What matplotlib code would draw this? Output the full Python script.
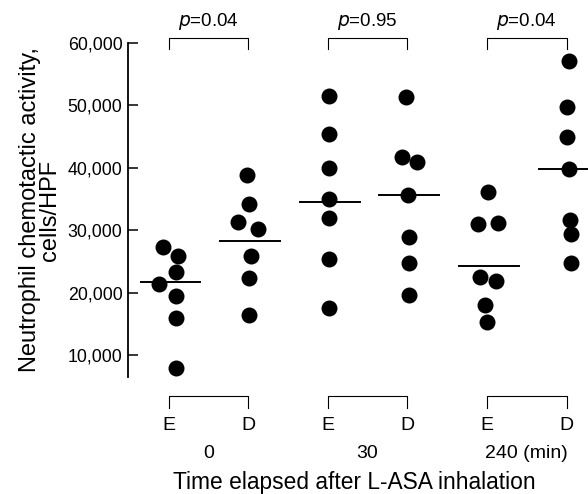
import numpy as np
import matplotlib
matplotlib.use("Agg")
import matplotlib.pyplot as plt
import matplotlib.transforms as mtransforms

plt.rcParams["font.family"] = ["Liberation Sans", "DejaVu Sans"]

# Données (cellules/HPF)
colonnes = ["E", "D", "E", "D", "E", "D"]
groupes = ["0", "30", "240 (min)"]
p_valeurs = ["0.04", "0.95", "0.04"]

E0 = [27280, 25840, 23280, 21360, 19440, 15920, 7920]
D0 = [38800, 34160, 31280, 30160, 25840, 22320, 16400]
E30 = [51440, 45360, 39920, 34960, 31920, 25360, 17520]
D30 = [51280, 41680, 40880, 35600, 28880, 24720, 19600]
E240 = [36080, 30960, 31120, 22480, 21840, 18000, 15280]
D240 = [57040, 49680, 44880, 39760, 31600, 29360, 24720]
series = [E0, D0, E30, D30, E240, D240]

# décalage horizontal des points (points qui se chevauchent)
decalages = [
    [-0.07, 0.12, 0.09, -0.12, 0.09, 0.09, 0.09],
    [-0.01, 0.01, -0.13, 0.12, 0.04, 0.01, 0.01],
    [0.02, 0.02, 0.02, 0.02, 0.02, 0.02, 0.02],
    [-0.02, -0.07, 0.12, 0.01, 0.02, 0.02, 0.02],
    [0.01, -0.11, 0.14, -0.09, 0.11, -0.02, 0.0],
    [0.03, 0.01, 0.01, 0.03, 0.05, 0.06, 0.06],
]

# valeurs des traits horizontaux
traits = [21680, 28240, 34480, 35600, 24240, 39760]

yticks = [10000, 20000, 30000, 40000, 50000, 60000]

fig = plt.figure(figsize=(5.88, 4.94), dpi=100)
ax = fig.add_axes([128 / 588, 117 / 494, 460 / 588, 334 / 494])

positions = np.arange(len(series))
for x, vals, dec in zip(positions, series, decalages):
    ax.plot(x + np.array(dec), vals, "o", color="black", markersize=11.5,
            markeredgewidth=0, clip_on=False)
for x, t in zip(positions, traits):
    ax.plot([x - 0.35, x + 0.4], [t, t], color="black", lw=1.4, clip_on=False)

ax.set_xlim(-0.51, 5.27)
ax.set_ylim(6480, 60000)

# axes
for s in ["top", "right", "bottom"]:
    ax.spines[s].set_visible(False)
ax.spines["left"].set_linewidth(1.3)
ax.set_yticks(yticks)
ax.set_yticklabels([f"{v:,}" for v in yticks], fontsize=12.8)
ax.tick_params(axis="y", direction="in", length=7, width=1.1, pad=4)
ax.set_xticks(positions)
ax.set_xticklabels(colonnes, fontsize=14)
ax.tick_params(axis="x", length=0, pad=29)
ax.set_ylabel("Neutrophil chemotactic activity,\ncells/HPF", fontsize=17,
              linespacing=0.88)
ax.yaxis.set_label_coords(-0.145, 0.5)

# crochets et p-valeurs
trans = mtransforms.blended_transform_factory(ax.transData, ax.transAxes)
for i, (g, p) in enumerate(zip(groupes, p_valeurs)):
    a, b = positions[2 * i], positions[2 * i + 1]
    ax.plot([a, a, b, b], [0.982, 1.015, 1.015, 0.982], color="black",
            lw=0.8, transform=trans, clip_on=False)
    ax.text((a + b) / 2, 1.065, f"$\\it{{p}}$=" + p, transform=trans,
            ha="center", va="center", fontsize=13.5)
    ax.plot([a, a, b, b], [-0.093, -0.057, -0.057, -0.093], color="black",
            lw=0.8, transform=trans, clip_on=False)
    ax.text((a + b) / 2, -0.228, g, transform=trans, ha="center",
            va="center", fontsize=14)

ax.text(0.491, -0.317, "Time elapsed after L-ASA inhalation",
        transform=ax.transAxes, ha="center", va="center", fontsize=16.4)

fig.savefig("out.png", dpi=100)
